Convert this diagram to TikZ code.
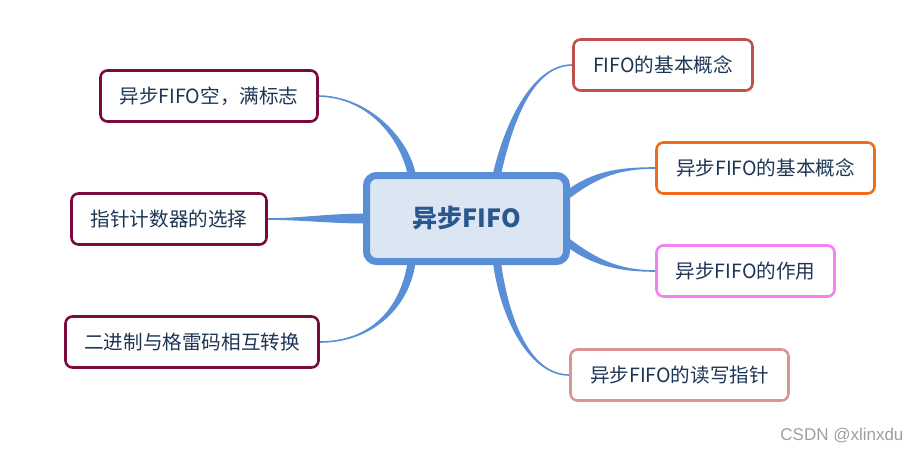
\documentclass[tikz,border=0pt]{standalone}
\usepackage{fontspec}
\setmainfont{Noto Sans CJK SC}
\newfontfamily\wmfont{Liberation Sans}
\usetikzlibrary{calc}
\pgfdeclarelayer{bg}
\pgfsetlayers{bg,main}
\definecolor{branchblue}{HTML}{5A8ED6}
\definecolor{centerfill}{HTML}{DCE6F2}
\definecolor{centertext}{HTML}{2B5790}
\definecolor{txt}{HTML}{1E3656}
\definecolor{maroon}{HTML}{7A0A3E}
\definecolor{redb}{HTML}{C0504D}
\definecolor{orangeb}{HTML}{F26B1D}
\definecolor{pinkb}{HTML}{F47FF0}
\definecolor{salmonb}{HTML}{D99594}
\tikzset{
  topic/.style={draw=#1, line width=2.6pt, rounded corners=7pt, fill=white,
    text=txt, font=\fontsize{19.6}{22}\selectfont, inner sep=0pt, minimum height=51pt},
  central/.style={draw=branchblue, line width=7pt, rounded corners=10pt, fill=centerfill,
    text=centertext, font=\fontsize{25}{28}\selectfont\bfseries, inner sep=0pt,
    minimum width=200pt, minimum height=86pt},
  branch/.style={fill=branchblue}
}
\newcommand{\brch}[6]{%
  \fill[branch] ($(#1)!#5!90:(#2)$) .. controls ($(#2)!#5!-90:(#1)$) and ($(#3)!#6!90:(#4)$) .. ($(#4)!#6!-90:(#3)$)
   -- ($(#4)!#6!90:(#3)$) .. controls ($(#3)!#6!-90:(#4)$) and ($(#2)!#5!90:(#1)$) .. ($(#1)!#5!-90:(#2)$) -- cycle;}
\begin{document}
\begin{tikzpicture}[x=1pt,y=-1pt]
\useasboundingbox (0,0) rectangle (923,450);
\node[central] (c) at (466.5,218.5) {异步FIFO};
\node[topic=maroon, minimum width=217pt] (n1) at (209,96) {异步FIFO空，满标志};
\node[topic=maroon, minimum width=195pt] (n2) at (169,219) {指针计数器的选择};
\node[topic=maroon, minimum width=253pt] (n3) at (192,342) {二进制与格雷码相互转换};
\node[topic=redb, minimum width=179pt] (n4) at (663,65) {FIFO的基本概念};
\node[topic=orangeb, minimum width=218pt] (n5) at (765.5,168) {异步FIFO的基本概念};
\node[topic=pinkb, minimum width=178pt] (n6) at (745.5,271) {异步FIFO的作用};
\node[topic=salmonb, minimum width=218pt] (n7) at (679.5,375) {异步FIFO的读写指针};
\node[text=black!38, font=\wmfont\fontsize{17}{20}\selectfont, anchor=east] (wm) at (907,436) {CSDN @xlinxdu};
\begin{pgfonlayer}{bg}
  \coordinate (s1) at ($(c.north)+(-55,2)$);
  \coordinate (a1) at (405,140);
  \coordinate (b1) at (370,97);
  \brch{s1}{a1}{b1}{n1.east}{4pt}{0.8pt}
  \coordinate (s2) at ($(c.west)+(2,0)$);
  \coordinate (a2) at (330,218.5);
  \coordinate (b2) at (300,219);
  \brch{s2}{a2}{b2}{n2.east}{5pt}{0.8pt}
  \coordinate (s3) at ($(c.south)+(-55,-2)$);
  \coordinate (a3) at (404,310);
  \coordinate (b3) at (370,342);
  \brch{s3}{a3}{b3}{n3.east}{4pt}{0.8pt}
  \coordinate (s4) at ($(c.north)+(30.5,2)$);
  \coordinate (a4) at (507,130);
  \coordinate (b4) at (530,65);
  \brch{s4}{a4}{b4}{n4.west}{4pt}{0.8pt}
  \coordinate (s5) at ($(c.east)+(-2,-24)$);
  \coordinate (a5) at (595,174);
  \coordinate (b5) at (620,168);
  \brch{s5}{a5}{b5}{n5.west}{4pt}{0.8pt}
  \coordinate (s6) at ($(c.east)+(-2,24)$);
  \coordinate (a6) at (595,263);
  \coordinate (b6) at (620,271);
  \brch{s6}{a6}{b6}{n6.west}{4pt}{0.8pt}
  \coordinate (s7) at ($(c.south)+(30.5,-2)$);
  \coordinate (a7) at (505,320);
  \coordinate (b7) at (530,375);
  \brch{s7}{a7}{b7}{n7.west}{4pt}{0.8pt}
\end{pgfonlayer}
\end{tikzpicture}
\end{document}
